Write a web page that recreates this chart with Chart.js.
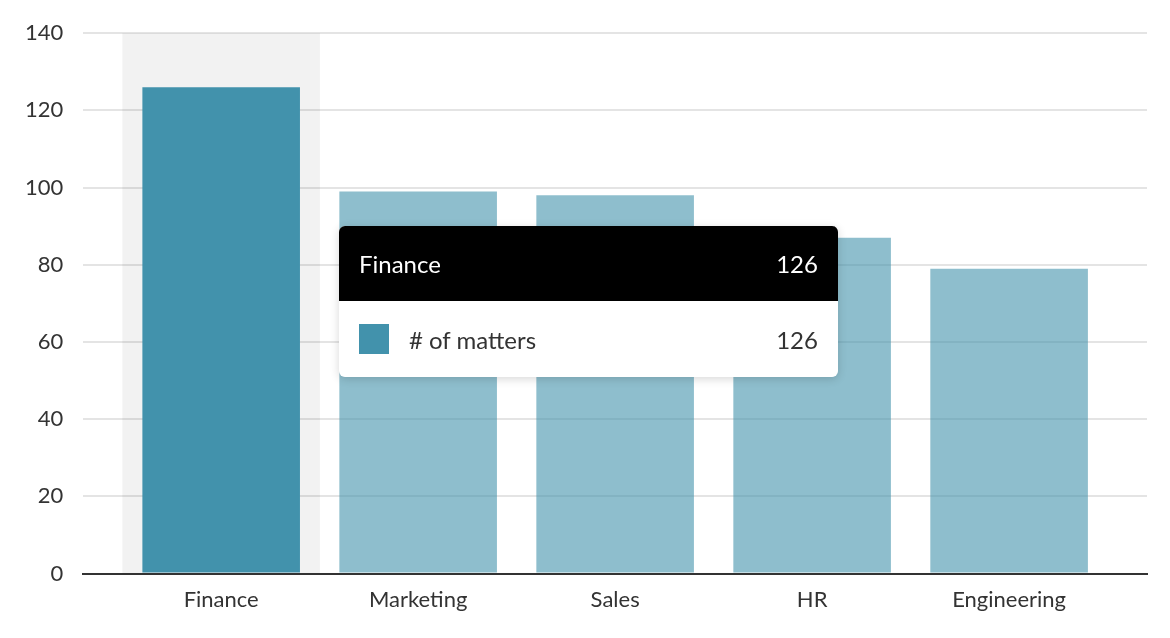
<!DOCTYPE html>
<html>
<head>
<meta charset="utf-8">
<script src="https://cdn.jsdelivr.net/npm/chart.js@4.4.0/dist/chart.umd.min.js"></script>
<style>
  html, body { margin: 0; padding: 0; background: #fff; }
  #wrap { position: relative; width: 1170px; height: 638px; font-family: Lato, "Open Sans", sans-serif; }
  #tt {
    position: absolute; width: 499px; background: #fff; border-radius: 6px; overflow: hidden;
    box-shadow: 0 2px 10px rgba(0,0,0,0.16); font-family: Lato, sans-serif; font-size: 24px;
    pointer-events: none; display: none;
  }
  #tt .hd { height: 75px; background: #000; color: #fff; display: flex; align-items: center;
    justify-content: space-between; padding: 0 20px; }
  #tt .bd { height: 76px; color: #333; display: flex; align-items: center; padding: 0 20px; }
  #tt .sw { width: 30px; height: 30px; margin-right: 20px; }
  #tt .lb { flex: 1; }
</style>
</head>
<body>
<div id="wrap"><canvas id="c" width="1170" height="638"></canvas><div id="tt"></div></div>
<script>
const categories = ["Finance", "Marketing", "Sales", "HR", "Engineering"];
const matters = [126, 99, 98, 87, 79];
const seriesLabel = "# of matters";
const yTicks = [0, 20, 40, 60, 80, 100, 120, 140];
const activeIndex = 0;

const strong = "rgb(66,146,172)";
const light = "rgba(66,146,172,0.6)";
const yMax = yTicks[yTicks.length - 1];

const ttEl = document.getElementById("tt");

function externalTooltip(context) {
  const { chart, tooltip } = context;
  if (tooltip.opacity === 0 || !tooltip.dataPoints || !tooltip.dataPoints.length) {
    ttEl.style.display = "none"; return;
  }
  const dp = tooltip.dataPoints[0];
  const title = categories[dp.dataIndex];
  const val = dp.parsed.y;
  ttEl.innerHTML =
    '<div class="hd"><span>' + title + '</span><span>' + val + '</span></div>' +
    '<div class="bd"><span class="sw" style="background:' + strong + '"></span>' +
    '<span class="lb">' + dp.dataset.label + '</span><span>' + val + '</span></div>';
  ttEl.style.display = "block";
  const el = dp.element;
  const ca = chart.chartArea;
  ttEl.style.left = (el.x + el.width / 2 + 39) + "px";
  ttEl.style.top = ((ca.top + ca.bottom) / 2 - 1.5 - ttEl.offsetHeight / 2) + "px";
}

const chart = new Chart(document.getElementById("c"), {
  type: "bar",
  data: {
    datasets: [
      {
        label: "highlight",
        data: categories.map((c, i) => ({ x: i, y: i === activeIndex ? yMax : null })),
        backgroundColor: "rgba(0,0,0,0.05)",
        hoverBackgroundColor: "rgba(0,0,0,0.05)",
        grouped: false,
        categoryPercentage: 1,
        barPercentage: 1,
        order: 2
      },
      {
        label: seriesLabel,
        data: categories.map((c, i) => ({ x: i, y: matters[i] })),
        backgroundColor: ctx => ctx.dataIndex === activeIndex ? strong : light,
        hoverBackgroundColor: ctx => ctx.dataIndex === activeIndex ? strong : light,
        grouped: false,
        categoryPercentage: 1,
        barPercentage: 0.8,
        order: 1
      }
    ]
  },
  options: {
    responsive: false,
    animation: false,
    events: [],
    layout: { padding: { left: 5, right: 23, top: 33, bottom: 12 } },
    plugins: {
      legend: { display: false },
      tooltip: {
        enabled: false,
        external: externalTooltip,
        filter: item => item.datasetIndex === 1
      }
    },
    scales: {
      x: {
        type: "linear",
        offset: false,
        min: -0.7,
        max: categories.length - 1 + 0.7,
        afterBuildTicks: axis => { axis.ticks = categories.map((c, i) => ({ value: i })); },
        grid: { display: false, drawTicks: false },
        border: { display: true, color: "#333", width: 2 },
        ticks: {
          autoSkip: false,
          maxRotation: 0,
          padding: 13,
          color: "#333",
          font: { family: "Lato", size: 22 },
          callback: v => categories[v] !== undefined ? categories[v] : ""
        }
      },
      y: {
        min: 0,
        max: yMax,
        afterBuildTicks: axis => { axis.ticks = yTicks.map(v => ({ value: v })); },
        grid: { color: "#e4e4e4", lineWidth: 2, drawTicks: false },
        border: { display: false },
        ticks: {
          padding: 20,
          color: "#333",
          font: { family: "Lato", size: 22 }
        }
      }
    }
  }
});

const el = chart.getDatasetMeta(1).data[activeIndex];
chart.tooltip.setActiveElements([{ datasetIndex: 1, index: activeIndex }], { x: el.x, y: el.y });
chart.update();
</script>
</body>
</html>
